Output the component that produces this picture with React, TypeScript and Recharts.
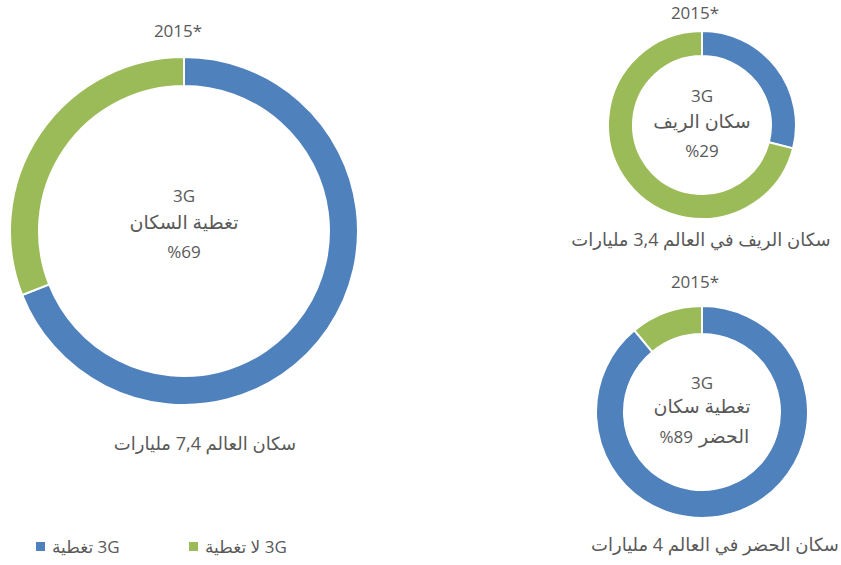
import React from 'react';
import { PieChart, Pie, Cell, Label, Legend } from 'recharts';

const categories = ['3G تغطية', '3G لا تغطية'];
const colors = ['#4F81BD', '#9BBB59'];
const worldValues = [69, 31];
const ruralValues = [29, 71];
const urbanValues = [89, 11];
const yearLabel = '2015*';
const worldCenter = ['3G', 'تغطية السكان', '%69'];
const ruralCenter = ['3G', 'سكان الريف', '%29'];
const urbanCenter = ['3G', 'تغطية سكان'];
const urbanLastWord = 'الحضر';
const urbanPercent = '%89';
const worldCaption = 'سكان العالم 7,4 مليارات';
const ruralCaption = 'سكان الريف في العالم 3,4 مليارات';
const urbanCaption = 'سكان الحضر في العالم 4 مليارات';

const toData = (vals: number[]) => categories.map((name, i) => ({ name, value: vals[i] }));
const worldData = toData(worldValues);
const ruralData = toData(ruralValues);
const urbanData = toData(urbanValues);

const TEXT = '#595959';
const FONT = "'Open Sans', 'DejaVu Sans', sans-serif";

const WORLD = { cx: 184, cy: 231, inner: 145, outer: 174 };
const RURAL = { cx: 702, cy: 125, inner: 69, outer: 94 };
const URBAN = { cx: 702, cy: 412, inner: 78, outer: 106 };

const isArabic = (s: string) => /[\u0600-\u06FF]/.test(s);

type LabelCfg = {
  cx: number;
  cy: number;
  lines: string[];
  lineY: number[];
  yearY: number;
  yearX: number;
  caption: string;
  capX: number;
  capY: number;
  capSize: number;
  extra?: React.ReactNode;
};

const makeLabel = (cfg: LabelCfg) => () => {
  const { cx, cy } = cfg;
  return (
    <g fontFamily={FONT} fill={TEXT}>
      {cfg.lines.map((t, i) => (
        <text
          key={i}
          x={cx}
          y={cy + cfg.lineY[i]}
          textAnchor="middle"
          fontSize={isArabic(t) ? 19 : 17}
          fill={TEXT}
        >
          {t}
        </text>
      ))}
      {cfg.extra}
      <text x={cx + cfg.yearX} y={cy + cfg.yearY} textAnchor="middle" fontSize={17} fill={TEXT}>
        {yearLabel}
      </text>
      <text x={cx + cfg.capX} y={cy + cfg.capY} textAnchor="middle" fontSize={cfg.capSize} fill={TEXT} direction="rtl">
        {cfg.caption}
      </text>
    </g>
  );
};

const LegendContent = () => (
  <div style={{ display: 'flex', fontFamily: FONT, color: TEXT, fontSize: 17 }}>
    {categories.map((c, i) => (
      <div key={c} style={{ display: 'flex', alignItems: 'center', width: 153 }}>
        <span style={{ width: 9, height: 9, background: colors[i], display: 'inline-block', marginRight: 7 }} />
        <span dir="rtl">{c}</span>
      </div>
    ))}
  </div>
);

export default function App() {
  return (
    <div style={{ position: 'absolute', left: 0, top: 0, width: 841, height: 565, background: '#fff' }}>
      <PieChart width={841} height={565} margin={{ top: 0, right: 0, bottom: 0, left: 0 }}>
        <Pie
          data={worldData}
          dataKey="value"
          cx={WORLD.cx}
          cy={WORLD.cy}
          innerRadius={WORLD.inner}
          outerRadius={WORLD.outer}
          startAngle={90}
          endAngle={-270}
          stroke="#fff"
          strokeWidth={2}
          isAnimationActive={false}
        >
          {worldData.map((d, i) => (
            <Cell key={d.name} fill={colors[i]} />
          ))}
          <Label
            position="center"
            content={makeLabel({
              cx: WORLD.cx,
              cy: WORLD.cy,
              lines: worldCenter,
              lineY: [-29, -2, 27],
              yearY: -194,
              yearX: -6,
              caption: worldCaption,
              capX: 21,
              capY: 219,
              capSize: 18,
            })}
          />
        </Pie>
        <Pie
          data={ruralData}
          dataKey="value"
          cx={RURAL.cx}
          cy={RURAL.cy}
          innerRadius={RURAL.inner}
          outerRadius={RURAL.outer}
          startAngle={90}
          endAngle={-270}
          stroke="#fff"
          strokeWidth={2}
          isAnimationActive={false}
        >
          {ruralData.map((d, i) => (
            <Cell key={d.name} fill={colors[i]} />
          ))}
          <Label
            position="center"
            content={makeLabel({
              cx: RURAL.cx,
              cy: RURAL.cy,
              lines: ruralCenter,
              lineY: [-23, 3, 32],
              yearY: -106,
              yearX: -7,
              caption: ruralCaption,
              capX: -1,
              capY: 121,
              capSize: 18,
            })}
          />
        </Pie>
        <Pie
          data={urbanData}
          dataKey="value"
          cx={URBAN.cx}
          cy={URBAN.cy}
          innerRadius={URBAN.inner}
          outerRadius={URBAN.outer}
          startAngle={90}
          endAngle={-270}
          stroke="#fff"
          strokeWidth={2}
          isAnimationActive={false}
        >
          {urbanData.map((d, i) => (
            <Cell key={d.name} fill={colors[i]} />
          ))}
          <Label
            position="center"
            content={makeLabel({
              cx: URBAN.cx,
              cy: URBAN.cy,
              lines: urbanCenter,
              lineY: [-23, 1],
              yearY: -124,
              yearX: -7,
              caption: urbanCaption,
              capX: 13,
              capY: 139,
              capSize: 18,
              extra: (
                <g>
                  <text x={URBAN.cx - 9} y={URBAN.cy + 31} textAnchor="end" fontSize={17} fill={TEXT}>
                    {urbanPercent}
                  </text>
                  <text x={URBAN.cx - 3} y={URBAN.cy + 31} textAnchor="start" fontSize={19} fill={TEXT}>
                    {urbanLastWord}
                  </text>
                </g>
              ),
            })}
          />
        </Pie>
        <Legend
          content={LegendContent}
          wrapperStyle={{ position: 'absolute', left: 36, top: 535, width: 320 }}
        />
      </PieChart>
    </div>
  );
}
